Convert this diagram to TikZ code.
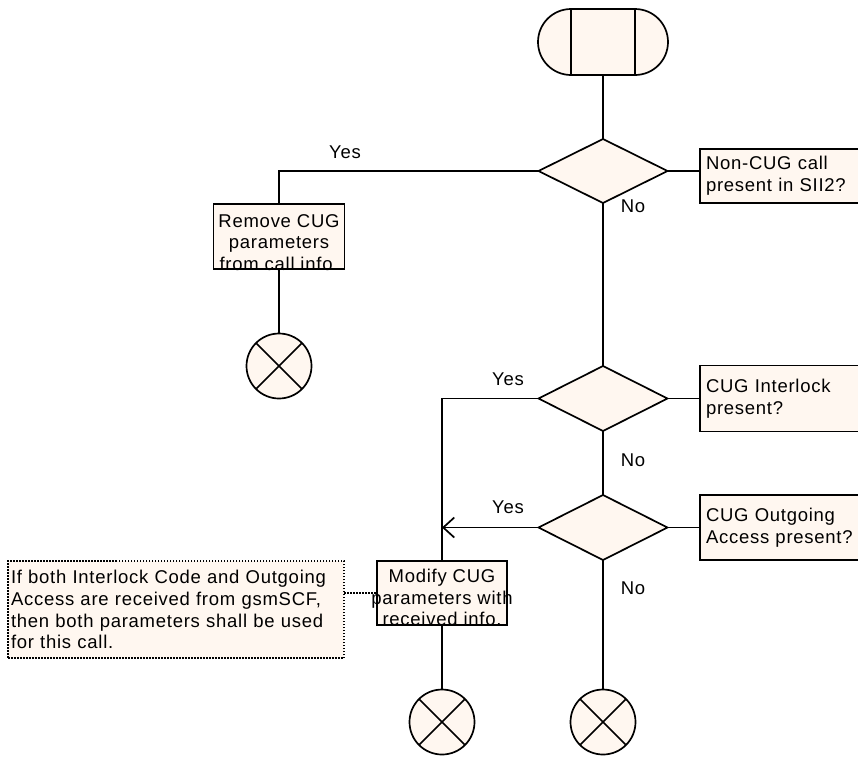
\documentclass[tikz,border=0pt]{standalone}
\usepackage{fontspec}
\setmainfont{Liberation Sans}[LetterSpace=4]
\usetikzlibrary{shapes.geometric,arrows.meta,calc}
\definecolor{cream}{RGB}{255,247,240}
\begin{document}
\begin{tikzpicture}[x=1pt,y=-1pt,
  line width=1.7pt,
  every node/.style={font=\fontsize{18.5}{21.8}\selectfont, outer sep=0pt},
  box/.style={draw,fill=cream,rectangle,inner sep=0pt},
  side/.style={box,anchor=west,text width=150pt,align=left,inner xsep=6pt,inner ysep=0pt},
  dec/.style={draw,fill=cream,diamond,inner sep=0pt,minimum width=129pt},
  stopc/.style={draw,fill=cream,circle,inner sep=0pt,minimum size=65pt},
  lbl/.style={inner sep=0pt},
  dots/.style={dash pattern=on 1.5pt off 1.5pt,line width=1.5pt},
]
\useasboundingbox (0,0) rectangle (858,756);
\clip (0,0) rectangle (858,756);

% start terminator
\node[box,rounded corners=33pt,minimum width=130pt,minimum height=66pt] (start) at (603,42) {};
\draw ($(start.north west)+(33,0)$) -- ($(start.south west)+(33,0)$);
\draw ($(start.north east)+(-33,0)$) -- ($(start.south east)+(-33,0)$);

% decision 1
\node[dec,minimum height=64pt] (d1) at (603,171) {};
\node[side,minimum height=54pt] (q1) at (700,176) {Non-CUG call\\present in SII2?};
\draw (start.south) -- (d1.north);
\draw (d1.east) -- (d1.east -| q1.west);

% remove branch
\node[box,minimum width=131pt,minimum height=65pt,
  label={[lbl,align=center,yshift=-6pt]center:Remove CUG\\parameters\\from call info.}] (rem) at (279,236.5) {};
\node[lbl] (y1) at (345,152) {Yes};
\draw (d1.west) -| (rem.north);
\node[stopc] (e1) at (279,366) {};
\draw (e1.45) -- (e1.225) (e1.135) -- (e1.-45);
\draw (rem.south) -- (e1.north);

% decision 2
\node[dec,minimum height=65pt] (d2) at (603,398.5) {};
\node[side,minimum height=66pt] (q2) at (700,398.5) {CUG Interlock\\present?};
\node[lbl] (n1) at (633,206) {No};
\draw (d1.south) -- (d2.north);
\draw (d2.east) -- (q2.west);

% decision 3
\node[dec,minimum height=65pt] (d3) at (603,527.5) {};
\node[side,minimum height=65pt] (q3) at (700,527.5) {CUG Outgoing\\Access present?};
\node[lbl] (n2) at (633,460) {No};
\draw (d2.south) -- (d3.north);
\draw (d3.east) -- (q3.west);

% modify branch
\node[box,minimum width=130pt,minimum height=64pt,
  label={[lbl,align=center,yshift=-4.5pt]center:Modify CUG\\parameters with\\received info.}] (mod) at (442,593) {};
\coordinate (j3) at (442,527.5);
\node[lbl] (y2) at (508,379) {Yes};
\node[lbl] (y3) at (508,507) {Yes};
\draw (d2.west) -| (mod.north);
\draw[-{Straight Barb[length=11pt,width=20pt]}] (d3.west) -- (j3);

% comment
\node[box,dots,minimum width=336pt,minimum height=97pt,text width=330pt,align=left,inner xsep=3pt] (cmt) at (176,609.5)
  {If both Interlock Code and Outgoing\\Access are received from gsmSCF,\\then both parameters shall be used\\for this call.};
\draw[dots] (cmt.east |- mod.west) -- (mod.west);

% ends
\node[stopc] (e2) at (442,722) {};
\draw (e2.45) -- (e2.225) (e2.135) -- (e2.-45);
\draw (mod.south) -- (e2.north);
\node[stopc] (e3) at (603,722) {};
\draw (e3.45) -- (e3.225) (e3.135) -- (e3.-45);
\node[lbl] (n3) at (633,588) {No};
\draw (d3.south) -- (e3.north);
\end{tikzpicture}
\end{document}
